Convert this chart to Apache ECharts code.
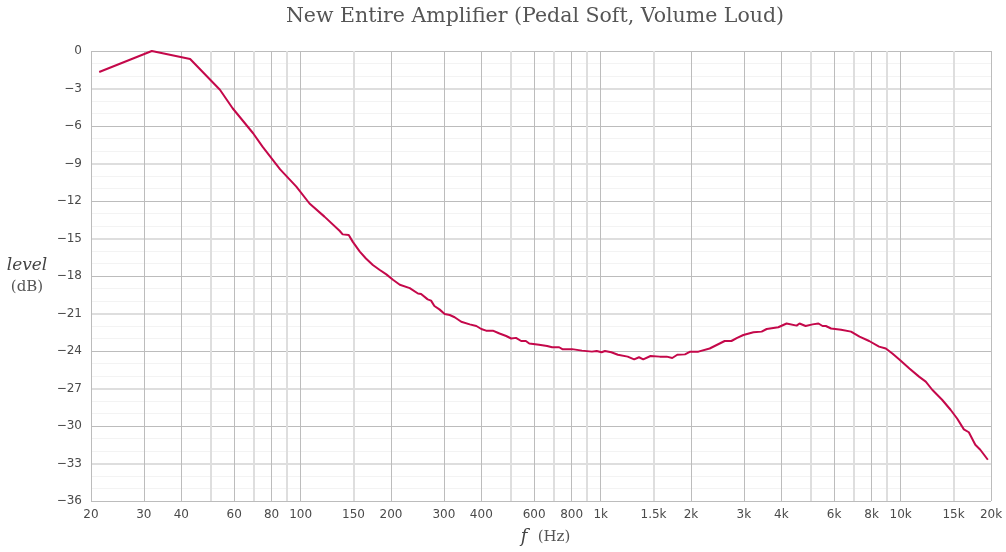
<!DOCTYPE html>
<html>
<head>
<meta charset="utf-8">
<script src="https://cdn.jsdelivr.net/npm/echarts@6/dist/echarts.min.js"></script>
<style>html,body{margin:0;padding:0;background:#fff}#c{width:1006px;height:552px}</style>
</head>
<body>
<div id="c"></div>
<script>
// ---- data ----
const freqs = [21.3,31.9,42.8,53.8,59.3,69.4,74.6,85.4,96.7,107,120,135,138,144.6,149,157.4,165,174,183,193,203,214,231,246,252,265,272,279,290,302,314,326,343,366,385,400,415,437,460,484,503,522,543,563,578,623,663,689,727,745,803,866,935,970,1007,1033,1085,1141,1230,1293,1342,1386,1466,1574,1660,1732,1800,1910,1988,2117,2308,2590,2727,2850,2990,3230,3440,3576,3908,4166,4500,4600,4820,5085,5320,5490,5630,5860,6330,6830,7290,7850,8470,8920,9380,9920,10690,11510,12120,12290,12740,13740,14660,15420,16240,16870,17730,18420,19520];
const levels = [-1.68,0,-0.64,-3.1,-4.58,-6.58,-7.65,-9.47,-10.85,-12.2,-13.25,-14.4,-14.67,-14.72,-15.25,-16.05,-16.6,-17.12,-17.5,-17.87,-18.3,-18.7,-18.97,-19.4,-19.44,-19.87,-19.97,-20.4,-20.67,-21.04,-21.12,-21.3,-21.66,-21.87,-22.0,-22.24,-22.37,-22.37,-22.6,-22.8,-23.0,-22.95,-23.2,-23.2,-23.4,-23.5,-23.6,-23.7,-23.7,-23.85,-23.85,-23.97,-24.05,-24.0,-24.1,-24.0,-24.1,-24.3,-24.45,-24.67,-24.5,-24.67,-24.4,-24.45,-24.45,-24.56,-24.3,-24.27,-24.05,-24.05,-23.8,-23.2,-23.2,-22.95,-22.72,-22.5,-22.45,-22.24,-22.1,-21.8,-21.97,-21.8,-22.0,-21.87,-21.8,-22.0,-22.0,-22.2,-22.3,-22.45,-22.85,-23.2,-23.65,-23.8,-24.2,-24.7,-25.4,-26.05,-26.45,-26.6,-27.1,-27.9,-28.7,-29.4,-30.27,-30.5,-31.5,-31.9,-32.7];
const xLabelValues = [20,30,40,60,80,100,150,200,300,400,600,800,1000,1500,2000,3000,4000,6000,8000,10000,15000,20000];
const xMajorGrid = [20,30,40,60,80,100,200,300,400,600,800,1000,2000,3000,4000,6000,8000,10000,20000];
const xMinorGrid = [50,70,90,150,500,700,900,1500,5000,7000,9000,15000];
const yMin = -36, yMax = 0, yStep = 3;
const titleText = 'New Entire Amplifier (Pedal Soft, Volume Loud)';

// ---- build ----
const lineData = freqs.map((f, i) => [f, levels[i]]);
const gridLines = [];
for (let v = yMin; v <= yMax; v++) {
  let style;
  if (v % 6 === 0) style = {color: '#bcbcbc', width: 1};
  else if (v % 3 === 0) style = {color: '#dedede', width: 2};
  else style = {color: '#f3f3f3', width: 1};
  gridLines.push({yAxis: v, lineStyle: Object.assign({type: 'solid'}, style)});
}
xMinorGrid.forEach(v => gridLines.push({xAxis: v, lineStyle: {color: '#dedede', width: 2, type: 'solid'}}));
xMajorGrid.forEach(v => gridLines.push({xAxis: v, lineStyle: {color: '#bcbcbc', width: 1, type: 'solid'}}));

function fmtX(v) {
  return v >= 1000 ? (v / 1000) + 'k' : String(v);
}
const serif = '"DejaVu Serif", serif';
const sans = '"DejaVu Sans", sans-serif';

function buildOption() {
  return {
    animation: false,
    backgroundColor: '#fff',
    grid: {left: 91, right: 15, top: 51, bottom: 51, containLabel: false},
    xAxis: {
      type: 'log', logBase: 10, min: 20, max: 20000,
      axisLine: {show: false}, axisTick: {show: false},
      splitLine: {show: false}, minorSplitLine: {show: false},
      axisLabel: {
        customValues: xLabelValues,
        formatter: v => fmtX(Math.round(v)),
        color: '#4a4a4a', fontFamily: sans, fontSize: 12, margin: 8,
        showMinLabel: true, showMaxLabel: true, hideOverlap: false
      }
    },
    yAxis: {
      type: 'value', min: yMin, max: yMax, interval: yStep,
      axisLine: {show: false}, axisTick: {show: false},
      splitLine: {show: false},
      axisLabel: {
        formatter: v => (v < 0 ? '\u2212' + Math.abs(v) : String(v)),
        color: '#4a4a4a', fontFamily: sans, fontSize: 12, margin: 9
      }
    },
    graphic: [
      {type: 'text', x: 535, y: 17, style: {text: titleText, fill: '#555', fontFamily: serif, fontSize: 20.5, align: 'center', verticalAlign: 'middle'}},
      {type: 'text', x: 27, y: 266, style: {text: 'level', fill: '#444', fontFamily: serif, fontStyle: 'italic', fontSize: 17, align: 'center', verticalAlign: 'middle'}},
      {type: 'text', x: 27, y: 287, style: {text: '(dB)', fill: '#555', fontFamily: serif, fontSize: 15, align: 'center', verticalAlign: 'middle'}},
      {type: 'text', x: 524, y: 537, style: {text: 'f', fill: '#444', fontFamily: serif, fontStyle: 'italic', fontSize: 18, align: 'center', verticalAlign: 'middle'}},
      {type: 'text', x: 554, y: 537, style: {text: '(Hz)', fill: '#555', fontFamily: serif, fontSize: 15, align: 'center', verticalAlign: 'middle'}}
    ],
    series: [
      {
        type: 'line', data: [], silent: true, z: 1,
        markLine: {silent: true, symbol: 'none', animation: false, label: {show: false}, data: gridLines}
      },
      {
        type: 'line', data: lineData, z: 5, showSymbol: false, symbol: 'none',
        lineStyle: {color: '#c4084a', width: 2}, itemStyle: {color: '#c4084a'}
      }
    ]
  };
}

const chart = echarts.init(document.getElementById('c'), null, {renderer: 'canvas'});
chart.setOption(buildOption());
const fontLoads = [
  '12px "DejaVu Sans"', '20px "DejaVu Serif"', 'italic 17px "DejaVu Serif"'
].map(f => document.fonts.load(f).catch(() => null));
Promise.all(fontLoads).then(() => {
  chart.clear();
  chart.setOption(buildOption(), true);
});
</script>
</body>
</html>
